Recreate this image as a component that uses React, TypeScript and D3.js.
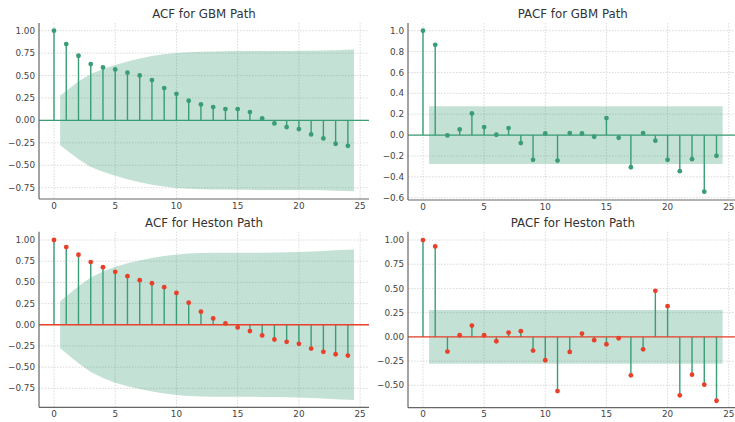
import React from "react";
import * as d3 from "d3";

const lags = d3.range(0, 25);

const acfGbm = [1.0, 0.851, 0.721, 0.628, 0.591, 0.569, 0.532, 0.502, 0.45, 0.361, 0.297, 0.219, 0.178, 0.149, 0.126, 0.126, 0.093, 0.022, -0.033, -0.074, -0.097, -0.156, -0.201, -0.26, -0.283];
const acfGbmBand = [0.277, 0.434, 0.518, 0.573, 0.618, 0.657, 0.69, 0.717, 0.738, 0.752, 0.761, 0.766, 0.769, 0.771, 0.773, 0.774, 0.775, 0.775, 0.775, 0.776, 0.777, 0.779, 0.783, 0.79];

const pacfGbm = [1.0, 0.865, -0.003, 0.054, 0.208, 0.077, 0.003, 0.067, -0.077, -0.237, 0.016, -0.244, 0.019, 0.016, -0.016, 0.163, -0.026, -0.308, 0.019, -0.054, -0.237, -0.346, -0.231, -0.542, -0.199];
const pacfGbmBand = Array(24).fill(0.277);

const acfHeston = [1.0, 0.917, 0.826, 0.739, 0.68, 0.625, 0.573, 0.526, 0.49, 0.443, 0.375, 0.261, 0.154, 0.075, 0.016, -0.032, -0.075, -0.126, -0.174, -0.202, -0.225, -0.281, -0.32, -0.348, -0.364];
const acfHestonBand = [0.277, 0.454, 0.558, 0.628, 0.683, 0.725, 0.759, 0.787, 0.81, 0.828, 0.841, 0.847, 0.849, 0.85, 0.85, 0.85, 0.851, 0.852, 0.855, 0.858, 0.863, 0.87, 0.879, 0.889];

const pacfHeston = [1.0, 0.934, -0.152, 0.017, 0.117, 0.017, -0.045, 0.045, 0.059, -0.141, -0.241, -0.559, -0.155, 0.034, -0.034, -0.076, -0.014, -0.397, -0.128, 0.476, 0.317, -0.603, -0.39, -0.493, -0.659];
const pacfHestonBand = Array(24).fill(0.277);

const xTicks = [0, 5, 10, 15, 20, 25];
const yTicksA = [-0.75, -0.5, -0.25, 0, 0.25, 0.5, 0.75, 1.0];
const yTicksB = [-0.6, -0.4, -0.2, 0, 0.2, 0.4, 0.6, 0.8, 1.0];
const yTicksC = [-0.5, -0.25, 0, 0.25, 0.5, 0.75, 1.0];

const GREEN = "#3a9d76";
const RED = "#e8402a";
const FONT = "DejaVu Sans, sans-serif";

type PanelProps = {
  title: string;
  values: number[];
  band: number[];
  box: [number, number, number, number];
  yDomain: [number, number];
  yTicks: number[];
  fmt: (v: number) => string;
  accent: string;
};

function fmtNum(digits: number) {
  return (v: number) => {
    const s = Math.abs(v).toFixed(digits);
    return v < -1e-9 ? "\u2212" + s : s;
  };
}

function Panel({ title, values, band, box, yDomain, yTicks, fmt, accent }: PanelProps) {
  const [x0, y0, x1, y1] = box;
  const x = d3.scaleLinear().domain([-1.225, 25.725]).range([x0, x1]);
  const y = d3.scaleLinear().domain(yDomain).range([y1, y0]);
  const bandX = band.map((_, i) => (i === 0 ? 0.5 : i === band.length - 1 ? 24.5 : i + 1));
  const area = d3
    .area<number>()
    .x((_, i) => x(bandX[i]))
    .y0((d) => y(-d))
    .y1((d) => y(d));
  const cx = (x0 + x1) / 2;
  return (
    <g>
      <text x={cx} y={y0 - 5} textAnchor="middle" fontSize={11.8} fill="#333" fontFamily={FONT}>
        {title}
      </text>
      {xTicks.map((t) => (
        <line key={"gx" + t} x1={x(t)} x2={x(t)} y1={y0} y2={y1} stroke="#cfcfcf" strokeWidth={0.8} strokeDasharray="1.5,1.5" />
      ))}
      {yTicks.map((t) => (
        <line key={"gy" + t} x1={x0} x2={x1} y1={y(t)} y2={y(t)} stroke="#cfcfcf" strokeWidth={0.8} strokeDasharray="1.5,1.5" />
      ))}
      <path d={area(band) || ""} fill={GREEN} fillOpacity={0.3} />
      {values.map((v, i) => (
        <line key={"s" + i} x1={x(lags[i])} x2={x(lags[i])} y1={y(0)} y2={y(v)} stroke={GREEN} strokeWidth={1.4} />
      ))}
      <line x1={x0} x2={x1} y1={y(0)} y2={y(0)} stroke={accent} strokeWidth={1.4} />
      {values.map((v, i) => (
        <circle key={"m" + i} cx={x(lags[i])} cy={y(v)} r={2.4} fill={accent} />
      ))}
      <line x1={x0} x2={x0} y1={y0} y2={y1} stroke="#666" strokeWidth={1.2} />
      <line x1={x0} x2={x1} y1={y1} y2={y1} stroke="#666" strokeWidth={1.2} />
      {yTicks.map((t) => (
        <text key={"ty" + t} x={x0 - 4} y={y(t)} dy="0.35em" textAnchor="end" fontSize={8.8} fill="#444" fontFamily={FONT}>
          {fmt(t)}
        </text>
      ))}
      {xTicks.map((t) => (
        <text key={"tx" + t} x={x(t)} y={y1 + 9.5} textAnchor="middle" fontSize={8.8} fill="#444" fontFamily={FONT}>
          {t}
        </text>
      ))}
    </g>
  );
}

export default function App() {
  return (
    <svg
      width={735}
      height={422}
      style={{ position: "absolute", left: 0, top: 0, background: "#fff" }}
    >
      <rect width={735} height={422} fill="#fff" />
      <Panel title="ACF for GBM Path" values={acfGbm} band={acfGbmBand} box={[39, 23, 369, 199]} yDomain={[-0.876, 1.086]} yTicks={yTicksA} fmt={fmtNum(2)} accent={GREEN} />
      <Panel title="PACF for GBM Path" values={pacfGbm} band={pacfGbmBand} box={[408, 23, 737.6, 200]} yDomain={[-0.622, 1.074]} yTicks={yTicksB} fmt={fmtNum(1)} accent={GREEN} />
      <Panel title="ACF for Heston Path" values={acfHeston} band={acfHestonBand} box={[39, 231.7, 369, 407.3]} yDomain={[-0.974, 1.098]} yTicks={yTicksA} fmt={fmtNum(2)} accent={RED} />
      <Panel title="PACF for Heston Path" values={pacfHeston} band={pacfHestonBand} box={[408, 231.7, 737.6, 407.7]} yDomain={[-0.731, 1.086]} yTicks={yTicksC} fmt={fmtNum(2)} accent={RED} />
    </svg>
  );
}
